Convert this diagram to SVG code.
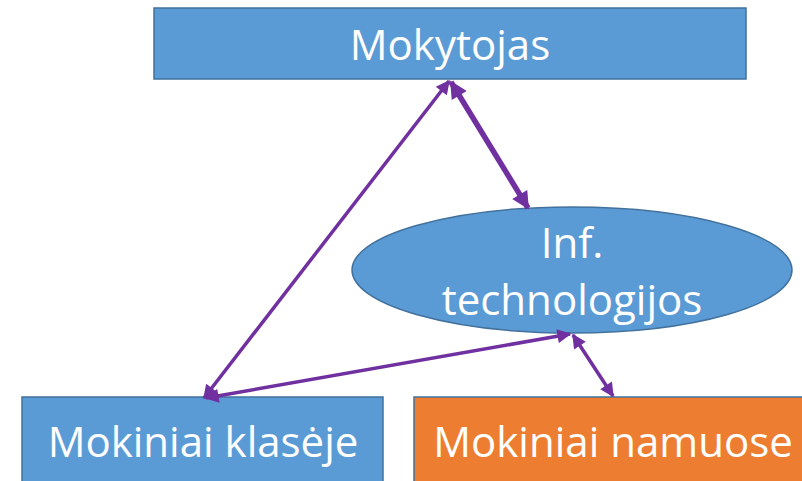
<svg xmlns="http://www.w3.org/2000/svg" width="802" height="481" viewBox="0 0 802 481">
<defs>
<style>
.box{fill:#5B9BD5;stroke:#41719C;stroke-width:1.5}
.org{fill:#ED7D31;stroke:#41719C;stroke-width:1.5}
.t{font-family:"Open Sans","Liberation Sans",sans-serif;font-size:42px;fill:#fff;text-anchor:middle}
.c{stroke:#7030A0;fill:none}
</style>
<marker id="ah" viewBox="0 0 10 10" refX="9" refY="5" markerWidth="4.5" markerHeight="4" orient="auto-start-reverse" markerUnits="strokeWidth">
<path d="M0,0 L10,5 L0,10 z" fill="#7030A0"/>
</marker>
<marker id="ahb" viewBox="0 0 10 10" refX="9" refY="5" markerWidth="3.5" markerHeight="3.2" orient="auto-start-reverse" markerUnits="strokeWidth">
<path d="M0,0 L10,5 L0,10 z" fill="#7030A0"/>
</marker>
</defs>
<g id="mokytojas">
<rect class="box" x="154" y="8" width="592" height="71"/>
<text class="t" x="450" y="60">Mokytojas</text>
</g>
<g id="it">
<ellipse class="box" cx="572" cy="270" rx="220" ry="63"/>
<text class="t" x="572" y="258">Inf.</text>
<text class="t" x="572" y="315">technologijos</text>
</g>
<g id="klaseje">
<rect class="box" x="22" y="397" width="361" height="90"/>
<text class="t" x="203" y="457">Mokiniai klasėje</text>
</g>
<g id="namuose">
<rect class="org" x="414" y="397" width="392" height="90"/>
<text class="t" x="613" y="457">Mokiniai namuose</text>
</g>
<g id="connectors">
<line class="c" stroke-width="3.5" x1="449" y1="81" x2="204" y2="398" marker-start="url(#ah)" marker-end="url(#ah)"/>
<line class="c" stroke-width="5.5" x1="451" y1="82" x2="528" y2="208" marker-start="url(#ahb)" marker-end="url(#ahb)"/>
<line class="c" stroke-width="3.5" x1="206" y1="398" x2="570" y2="334" marker-start="url(#ah)" marker-end="url(#ah)"/>
<line class="c" stroke-width="3.5" x1="573" y1="335" x2="613" y2="396" marker-start="url(#ah)" marker-end="url(#ah)"/>
</g>
</svg>
